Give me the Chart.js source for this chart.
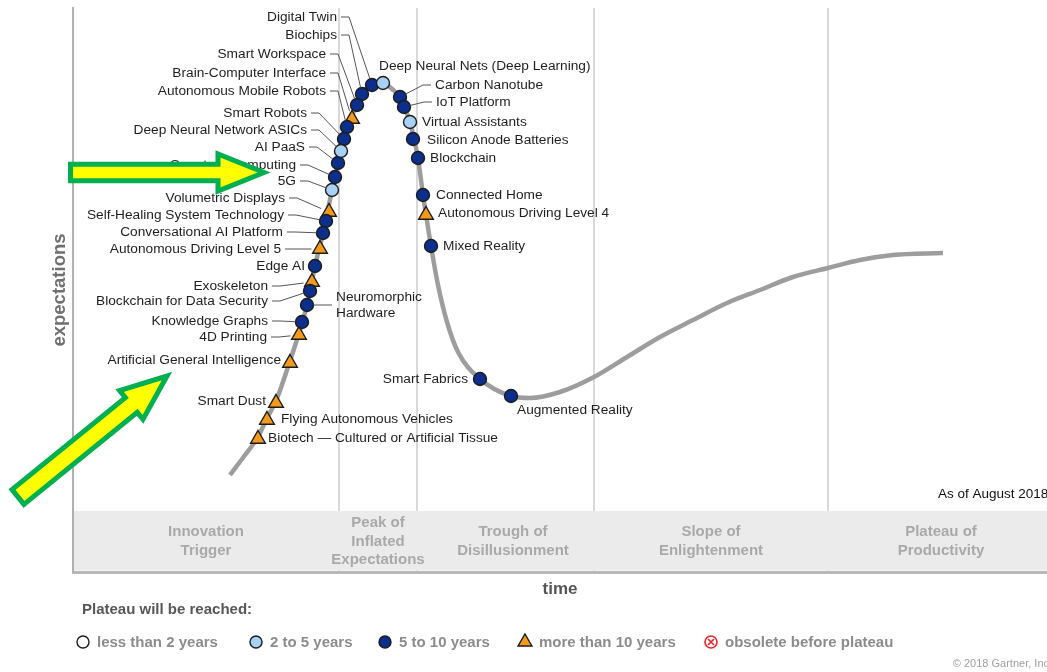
<!DOCTYPE html>
<html>
<head>
<meta charset="utf-8">
<title>Hype Cycle for Emerging Technologies, 2018</title>
<script src="https://cdn.jsdelivr.net/npm/chart.js@4.4.1/dist/chart.umd.min.js"></script>
<style>
  html, body { margin: 0; padding: 0; background: #fff; }
  #wrap { width: 1047px; height: 672px; position: relative; }
</style>
</head>
<body>
<div id="wrap"><canvas id="hype"></canvas></div>
<script>
// hype cycle 2018 -- curve, technology markers, phase band, legend
const FONT = '"Liberation Sans", Arial, Helvetica, sans-serif';

// the hype curve (time, expectations)
const curveTime =   [15.7, 17.2, 18.5, 19.4, 20.3, 21.7, 22.6, 23.4, 24.2, 25.0, 25.9, 26.5, 27.1, 27.9, 28.9, 29.9, 31.0, 31.9, 32.7, 33.1, 33.7, 34.5, 35.0, 35.8, 36.5, 37.4, 38.5, 40.7, 43.8, 45.7, 48.7, 52.1, 55.4, 58.7, 62.0, 65.4, 68.7, 72.0, 75.5, 78.7, 82.0, 87.0];
const curveExpect = [ 9.7, 11.7, 13.5, 15.4, 17.1, 21.1, 23.9, 26.7, 30.6, 33.9, 38.2, 40.9, 43.3, 45.6, 47.8, 48.7, 48.9, 48.3, 47.5, 46.5, 45.0, 41.4, 37.7, 32.6, 28.7, 25.0, 22.0, 19.3, 17.6, 17.4, 18.0, 19.5, 21.5, 23.5, 25.2, 26.9, 28.2, 29.5, 30.4, 31.2, 31.7, 31.9];

// technologies on the curve
const techNames = [
  'Digital Twin', 'Biochips', 'Smart Workspace', 'Brain-Computer Interface', 'Autonomous Mobile Robots',
  'Smart Robots', 'Deep Neural Network ASICs', 'AI PaaS', 'Quantum Computing', '5G',
  'Volumetric Displays', 'Self-Healing System Technology', 'Conversational AI Platform', 'Autonomous Driving Level 5', 'Edge AI',
  'Exoskeleton', 'Blockchain for Data Security', 'Neuromorphic Hardware', 'Knowledge Graphs', '4D Printing',
  'Artificial General Intelligence', 'Smart Dust', 'Flying Autonomous Vehicles', 'Biotech — Cultured or Artificial Tissue',
  'Deep Neural Nets (Deep Learning)', 'Carbon Nanotube', 'IoT Platform', 'Virtual Assistants', 'Silicon Anode Batteries',
  'Blockchain', 'Connected Home', 'Autonomous Driving Level 4', 'Mixed Reality', 'Smart Fabrics', 'Augmented Reality'
];
const techTime = [
  29.9, 28.9, 28.4, 27.9, 27.4,
  27.1, 26.8, 26.5, 26.2, 25.9,
  25.6, 25.3, 25.0, 24.7, 24.2,
  23.9, 23.7, 23.4, 22.9, 22.6,
  21.7, 20.3, 19.4, 18.5,
  31.0, 32.7, 33.1, 33.7, 34.0,
  34.5, 35.0, 35.3, 35.8, 40.7, 43.8
];
const techExpect = [
  48.7, 47.8, 46.7, 45.3, 44.5,
  43.3, 42.1, 40.9, 39.5, 38.2,
  36.0, 35.1, 33.9, 32.3, 30.6,
  29.0, 28.1, 26.7, 25.0, 23.7,
  20.9, 16.9, 15.2, 13.3,
  48.9, 47.5, 46.5, 45.0, 43.3,
  41.4, 37.7, 35.7, 32.6, 19.3, 17.6
];
const techPlateau = [
  '5-10', '5-10', '5-10', '10+', '5-10',
  '5-10', '2-5', '5-10', '5-10', '2-5',
  '10+', '5-10', '5-10', '10+', '5-10',
  '10+', '5-10', '5-10', '5-10', '10+',
  '10+', '10+', '10+', '10+',
  '2-5', '5-10', '5-10', '2-5', '5-10',
  '5-10', '5-10', '10+', '5-10', '5-10', '5-10'
];

// phases along the time axis
const phaseNames = [['Innovation', 'Trigger'], ['Peak of', 'Inflated', 'Expectations'], ['Trough of', 'Disillusionment'], ['Slope of', 'Enlightenment'], ['Plateau of', 'Productivity']];
const phaseBounds = [26.6, 34.4, 52.1, 75.5];
const phaseLabelTime = [13.3, 30.5, 44.0, 63.8, 86.8];
const phaseBandTop = 6.1;

// legend
const plateauClasses = ['<2', '2-5', '5-10', '10+', 'obsolete'];
const plateauLabels = ['less than 2 years', '2 to 5 years', '5 to 10 years', 'more than 10 years', 'obsolete before plateau'];

// marker look per class
const markerStyle = {
  '<2':   { pointStyle: 'circle',   bg: '#ffffff', r: 6.5 },
  '2-5':  { pointStyle: 'circle',   bg: '#a8d2f5', r: 6.5 },
  '5-10': { pointStyle: 'circle',   bg: '#0b2f8a', r: 6.5 },
  '10+':  { pointStyle: 'triangle', bg: '#f39a1c', r: 8.5 }
};

// where each label sits relative to its marker: dx, dy (px), align, leader line
const labelPlacement = {
  'Digital Twin': [-35, -68, 'right', true],
  'Biochips': [-25, -59, 'right', true],
  'Smart Workspace': [-31, -51, 'right', true],
  'Brain-Computer Interface': [-26, -46, 'right', true],
  'Autonomous Mobile Robots': [-21, -36, 'right', true],
  'Smart Robots': [-37, -26, 'right', true],
  'Deep Neural Network ASICs': [-34, -21, 'right', true],
  'AI PaaS': [-33, -16, 'right', true],
  'Quantum Computing': [-39, -12, 'right', true],
  '5G': [-36, -9, 'right', true],
  'Volumetric Displays': [-44, -14, 'right', true],
  'Self-Healing System Technology': [-42, -6, 'right', true],
  'Conversational AI Platform': [-40, -1, 'right', true],
  'Autonomous Driving Level 5': [-39, 0, 'right', true],
  'Edge AI': [-10, 0, 'right', false],
  'Exoskeleton': [-44, 4, 'right', true],
  'Blockchain for Data Security': [-42, 10, 'right', true],
  'Neuromorphic Hardware': [29, 0, 'left', true, ['Neuromorphic', 'Hardware']],
  'Knowledge Graphs': [-34, -1, 'right', true],
  '4D Printing': [-32, 2, 'right', true],
  'Artificial General Intelligence': [-9, -3, 'right', false],
  'Smart Dust': [-10, -2, 'right', false],
  'Flying Autonomous Vehicles': [14, -1, 'left', false],
  'Biotech — Cultured or Artificial Tissue': [10, -1, 'left', false],
  'Deep Neural Nets (Deep Learning)': [-4, -17, 'left', false],
  'Carbon Nanotube': [35, -12, 'left', true],
  'IoT Platform': [32, -5, 'left', true],
  'Virtual Assistants': [12, 0, 'left', false],
  'Silicon Anode Batteries': [14, 1, 'left', false],
  'Blockchain': [12, 0, 'left', false],
  'Connected Home': [13, 0, 'left', false],
  'Autonomous Driving Level 4': [12, -2, 'left', false],
  'Mixed Reality': [12, 0, 'left', false],
  'Smart Fabrics': [-12, 0, 'right', false],
  'Augmented Reality': [6, 14, 'left', false]
};

// yellow pointer arrows drawn on top (time, expectations)
const pointerArrows = [
  { from: [-0.25, 39.95], to: [19.1, 39.95], body: 8.3, head: 18.5, headLen: 46 },
  { from: [-5.5, 7.5], to: [9.4, 19.6], body: 9.5, head: 18.5, headLen: 46 }
];

const datasets = ['2-5', '5-10', '10+'].map(cls => {
  const st = markerStyle[cls];
  const pts = [];
  techNames.forEach((n, i) => {
    if (techPlateau[i] === cls) pts.push({ x: techTime[i], y: techExpect[i], name: n });
  });
  return {
    label: cls, techClass: cls, data: pts, order: 0,
    pointStyle: st.pointStyle, pointRadius: st.r, pointHoverRadius: st.r,
    backgroundColor: st.bg, borderColor: '#1c1c1c', borderWidth: 1.4
  };
});
datasets.push({
  type: 'line', label: 'curve', order: 10,
  data: curveTime.map((t, i) => ({ x: t, y: curveExpect[i] })),
  borderColor: '#9d9d9d', borderWidth: 4.5, pointRadius: 0, fill: false,
  cubicInterpolationMode: 'monotone', borderCapStyle: 'butt'
});

function drawSymbol(ctx, cls, x, y) {
  if (cls === 'obsolete') {
    ctx.save();
    ctx.strokeStyle = '#e8232a'; ctx.fillStyle = '#fff'; ctx.lineWidth = 1.6;
    ctx.beginPath(); ctx.arc(x, y, 6, 0, Math.PI * 2); ctx.fill(); ctx.stroke();
    ctx.beginPath();
    ctx.moveTo(x - 3, y - 3); ctx.lineTo(x + 3, y + 3);
    ctx.moveTo(x + 3, y - 3); ctx.lineTo(x - 3, y + 3);
    ctx.stroke();
    ctx.restore();
    return;
  }
  const st = markerStyle[cls];
  ctx.save();
  ctx.fillStyle = st.bg; ctx.strokeStyle = '#1c1c1c'; ctx.lineWidth = 1.4;
  Chart.helpers.drawPoint(ctx, { pointStyle: st.pointStyle, radius: st.r - 0.5, rotation: 0, borderWidth: 1.4 }, x, y);
  ctx.restore();
}

const phaseBandPlugin = {
  id: 'phaseBand',
  beforeDatasetsDraw(chart) {
    const { ctx, chartArea: a, scales: { x, y } } = chart;
    const top = y.getPixelForValue(phaseBandTop);
    ctx.save();
    ctx.fillStyle = '#ebebeb';
    ctx.fillRect(a.left + 1, top, a.right - a.left, a.bottom - top - 1.5);
    ctx.fillStyle = '#a9a9a9';
    ctx.font = 'bold 15px ' + FONT;
    ctx.textAlign = 'center';
    ctx.textBaseline = 'middle';
    const cy = (top + a.bottom) / 2;
    phaseNames.forEach((lines, i) => {
      const cx = x.getPixelForValue(phaseLabelTime[i]);
      lines.forEach((ln, k) => ctx.fillText(ln, cx, cy + (k - (lines.length - 1) / 2) * 18.5));
    });
    ctx.fillStyle = '#111';
    ctx.font = '13.5px ' + FONT;
    ctx.textAlign = 'left';
    ctx.fillText('As of August 2018', x.getPixelForValue(86.5), y.getPixelForValue(7.8));
    ctx.restore();
  }
};

const techLabelPlugin = {
  id: 'techLabels',
  afterDatasetsDraw(chart) {
    const ctx = chart.ctx;
    ctx.save();
    ctx.font = '13.7px ' + FONT;
    ctx.textBaseline = 'middle';
    ctx.strokeStyle = '#555';
    ctx.lineWidth = 1;
    chart.data.datasets.forEach((ds, di) => {
      if (!ds.techClass) return;
      const meta = chart.getDatasetMeta(di);
      meta.data.forEach((pt, i) => {
        const name = ds.data[i].name;
        const [dx, dy, align, leader, wrapped] = labelPlacement[name];
        const lines = wrapped || [name];
        const tx = pt.x + dx, ty = pt.y + dy;
        if (leader) {
          const sx = align === 'right' ? tx + 4 : tx - 4;
          const kx = align === 'right' ? tx + 12 : tx - 12;
          const vx = pt.x - kx, vy = pt.y - ty;
          const len = Math.hypot(vx, vy) || 1;
          const r = markerStyle[ds.techClass].r;
          ctx.beginPath();
          ctx.moveTo(sx, ty);
          ctx.lineTo(kx, ty);
          ctx.lineTo(pt.x - vx / len * r, pt.y - vy / len * r);
          ctx.stroke();
        }
        ctx.fillStyle = '#1e1e1e';
        ctx.textAlign = align;
        lines.forEach((ln, k) => ctx.fillText(ln, tx, ty + (k - (lines.length - 1) / 2) * 16.5));
      });
    });
    ctx.restore();
  }
};

const overlayPlugin = {
  id: 'overlay',
  afterDraw(chart) {
    const { ctx, scales: { x, y } } = chart;
    ctx.save();
    // legend
    ctx.textBaseline = 'middle';
    ctx.textAlign = 'left';
    ctx.fillStyle = '#575757';
    ctx.font = 'bold 15px ' + FONT;
    ctx.fillText('Plateau will be reached:', 82, 610);
    const symX = [83, 256, 385, 525, 711];
    ctx.font = 'bold 15px ' + FONT;
    plateauClasses.forEach((cls, i) => {
      drawSymbol(ctx, cls, symX[i], 642);
      ctx.fillStyle = '#8c8c8c';
      ctx.fillText(plateauLabels[i], symX[i] + 14, 643);
    });
    ctx.fillStyle = '#a0a0a0';
    ctx.font = '11px ' + FONT;
    ctx.textAlign = 'right';
    ctx.fillText('© 2018 Gartner, Inc', 1049, 664);
    // arrows
    pointerArrows.forEach(ar => {
      const x0 = x.getPixelForValue(ar.from[0]), y0 = y.getPixelForValue(ar.from[1]);
      const x1 = x.getPixelForValue(ar.to[0]), y1 = y.getPixelForValue(ar.to[1]);
      const L = Math.hypot(x1 - x0, y1 - y0);
      const ux = (x1 - x0) / L, uy = (y1 - y0) / L;
      const nx = -uy, ny = ux;
      const bx = x1 - ux * ar.headLen, by = y1 - uy * ar.headLen;
      ctx.beginPath();
      ctx.moveTo(x0 + nx * ar.body, y0 + ny * ar.body);
      ctx.lineTo(bx + nx * ar.body, by + ny * ar.body);
      ctx.lineTo(bx + nx * ar.head, by + ny * ar.head);
      ctx.lineTo(x1, y1);
      ctx.lineTo(bx - nx * ar.head, by - ny * ar.head);
      ctx.lineTo(bx - nx * ar.body, by - ny * ar.body);
      ctx.lineTo(x0 - nx * ar.body, y0 - ny * ar.body);
      ctx.closePath();
      ctx.fillStyle = '#ffff00';
      ctx.fill();
      ctx.lineWidth = 5;
      ctx.lineJoin = 'miter';
      ctx.strokeStyle = '#00b050';
      ctx.stroke();
    });
    ctx.restore();
  }
};

new Chart(document.getElementById('hype'), {
  type: 'scatter',
  data: { datasets },
  options: {
    responsive: true,
    maintainAspectRatio: false,
    animation: false,
    events: [],
    layout: { autoPadding: false, padding: { left: 48.9, top: 8, right: 0, bottom: 72.8 } },
    plugins: { legend: { display: false }, tooltip: { enabled: false } },
    scales: {
      x: {
        type: 'linear', min: 0, max: 97.4,
        afterBuildTicks: s => { s.ticks = phaseBounds.map(v => ({ value: v })); },
        ticks: { display: false },
        grid: { color: '#d9d9d9', lineWidth: 2, drawTicks: false },
        border: { display: true, color: '#b8b8b8', width: 3 },
        title: { display: true, text: 'time', color: '#555', font: { family: FONT, size: 17, weight: 'bold' }, padding: { top: 6.8, bottom: 0 } }
      },
      y: {
        type: 'linear', min: 0, max: 56.4,
        ticks: { display: false },
        grid: { display: false, drawTicks: false },
        border: { display: true, color: '#b0b0b0', width: 2 },
        title: { display: true, text: 'expectations', color: '#707070', font: { family: FONT, size: 18.5, weight: 'bold' }, padding: { top: 0, bottom: 1.9 } }
      }
    }
  },
  plugins: [phaseBandPlugin, techLabelPlugin, overlayPlugin]
});
</script>
</body>
</html>
